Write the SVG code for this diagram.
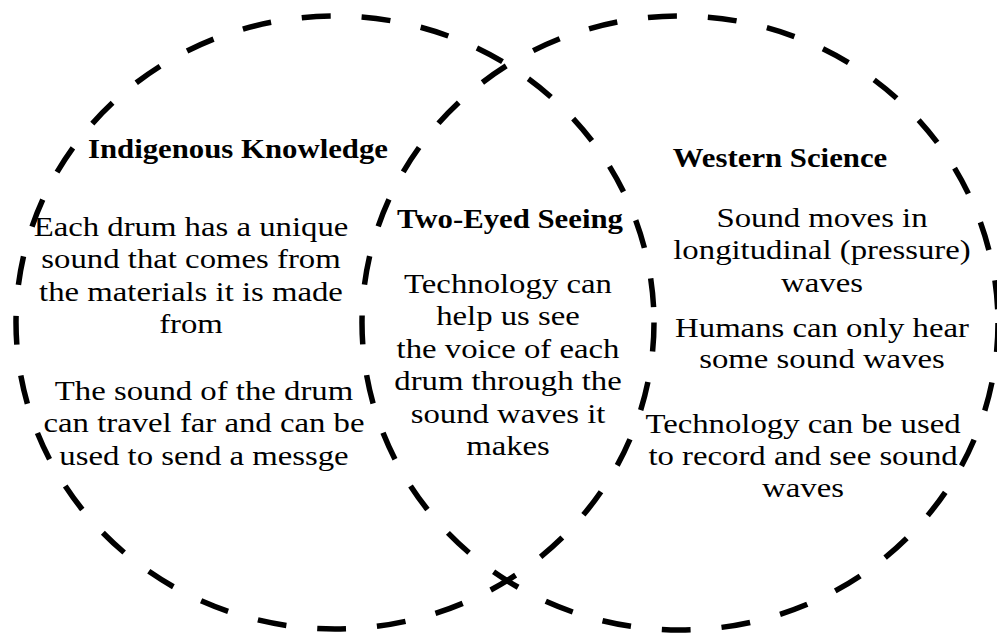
<svg xmlns="http://www.w3.org/2000/svg" width="997" height="639" viewBox="0 0 997 639">
<style>
.ring{fill:none;stroke:#000;stroke-width:5.5;stroke-dasharray:29 31}
.t{font-weight:bold;font-size:27px;fill:#000;text-anchor:middle}
.b{font-size:28px;fill:#000;text-anchor:middle}
</style>
<rect width="997" height="639" fill="#fff"/>
<g id="circles">
<ellipse id="left-circle" class="ring" cx="335" cy="322.5" rx="319" ry="306.5"/>
<ellipse id="right-circle" class="ring" cx="680" cy="323" rx="318" ry="307"/>
</g>
<g id="indigenous" font-family="Liberation Serif">
<g transform="translate(238 0) scale(1.14 1)"><text class="t" font-family="Liberation Serif" x="0" y="158">Indigenous Knowledge</text></g>
<g transform="translate(191 0) scale(1.17 1)">
<text class="b" font-family="Liberation Serif" x="0" y="236">Each drum has a unique</text>
<text class="b" font-family="Liberation Serif" x="0" y="268">sound that comes from</text>
<text class="b" font-family="Liberation Serif" x="0" y="301">the materials it is made</text>
<text class="b" font-family="Liberation Serif" x="0" y="333">from</text>
</g>
<g transform="translate(204 0) scale(1.17 1)">
<text class="b" font-family="Liberation Serif" x="0" y="400">The sound of the drum</text>
<text class="b" font-family="Liberation Serif" x="0" y="432">can travel far and can be</text>
<text class="b" font-family="Liberation Serif" x="0" y="465">used to send a messge</text>
</g>
</g>
<g id="two-eyed" font-family="Liberation Serif">
<g transform="translate(510 0) scale(1.14 1)"><text class="t" font-family="Liberation Serif" x="0" y="228">Two-Eyed Seeing</text></g>
<g transform="translate(508 0) scale(1.17 1)">
<text class="b" font-family="Liberation Serif" x="0" y="293">Technology can</text>
<text class="b" font-family="Liberation Serif" x="0" y="325">help us see</text>
<text class="b" font-family="Liberation Serif" x="0" y="358">the voice of each</text>
<text class="b" font-family="Liberation Serif" x="0" y="390">drum through the</text>
<text class="b" font-family="Liberation Serif" x="0" y="423">sound waves it</text>
<text class="b" font-family="Liberation Serif" x="0" y="455">makes</text>
</g>
</g>
<g id="western" font-family="Liberation Serif">
<g transform="translate(780 0) scale(1.14 1)"><text class="t" font-family="Liberation Serif" x="0" y="167">Western Science</text></g>
<g transform="translate(822 0) scale(1.17 1)">
<text class="b" font-family="Liberation Serif" x="0" y="227">Sound moves in</text>
<text class="b" font-family="Liberation Serif" x="0" y="259">longitudinal (pressure)</text>
<text class="b" font-family="Liberation Serif" x="0" y="292">waves</text>
<text class="b" font-family="Liberation Serif" x="0" y="337">Humans can only hear</text>
<text class="b" font-family="Liberation Serif" x="0" y="368">some sound waves</text>
</g>
<g transform="translate(803 0) scale(1.17 1)">
<text class="b" font-family="Liberation Serif" x="0" y="433">Technology can be used</text>
<text class="b" font-family="Liberation Serif" x="0" y="465">to record and see sound</text>
<text class="b" font-family="Liberation Serif" x="0" y="497">waves</text>
</g>
</g>
</svg>
